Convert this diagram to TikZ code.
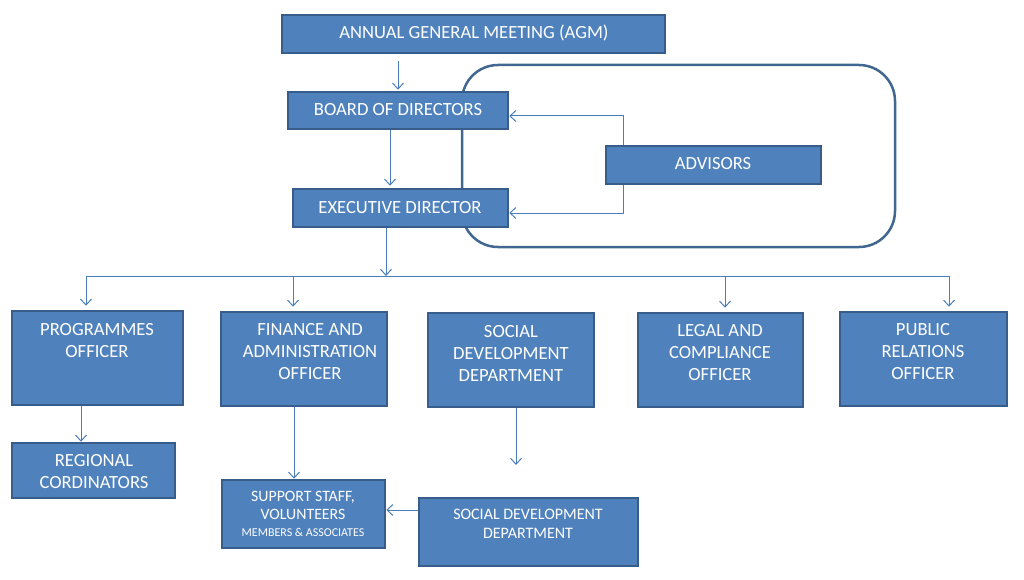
\documentclass[tikz,border=0pt]{standalone}
\usepackage{fontspec}
\setmainfont{Carlito}
\usetikzlibrary{arrows.meta}
\definecolor{boxfill}{HTML}{4F81BD}
\definecolor{boxline}{HTML}{385D8A}
\definecolor{arrcol}{HTML}{4A7EBB}
\definecolor{framecol}{HTML}{41668F}
\begin{document}
\begin{tikzpicture}[x=1pt,y=-1pt,
 box/.style={draw=boxline, fill=boxfill, line width=2.5pt, inner sep=0pt, rectangle},
 txt/.style={text=white, align=center, font=\fontsize{18.6}{22}\selectfont, inner sep=0pt},
 arr/.style={draw=arrcol, line width=1pt, -{Straight Barb[length=6pt,width=11pt]}},
 plain/.style={draw=arrcol, line width=1pt},
 advframe/.style={draw=framecol, line width=2.5pt, rounded corners=36pt, rectangle, inner sep=0pt}
]
\useasboundingbox (0,0) rectangle (1024,580);

% frame round advisors
\node[advframe, minimum width=433pt, minimum height=182pt] (frame) at (678.5,156) {};

% boxes
\node[box, minimum width=383pt, minimum height=38pt] (agm) at (473.5,34) {};
\node[box, minimum width=220pt, minimum height=37pt] (board) at (398,110.5) {};
\node[box, minimum width=215pt, minimum height=38pt] (exec) at (400.5,208) {};
\node[box, minimum width=215pt, minimum height=38pt] (adv) at (713.5,165) {};
\node[box, minimum width=171pt, minimum height=94pt] (prog) at (97.5,358) {};
\node[box, minimum width=166pt, minimum height=94pt] (fin) at (304,359) {};
\node[box, minimum width=166pt, minimum height=94pt] (soc) at (511,360) {};
\node[box, minimum width=165pt, minimum height=94pt] (legal) at (720.5,360) {};
\node[box, minimum width=167pt, minimum height=94pt] (pub) at (923.5,359) {};
\node[box, minimum width=163pt, minimum height=55pt] (reg) at (93.5,470.5) {};
\node[box, minimum width=163pt, minimum height=68pt] (sup) at (303.5,514) {};
\node[box, minimum width=219pt, minimum height=68pt] (soctwo) at (528.5,532) {};

% texts
\node[txt] (agm-t) at (474,33) {ANNUAL GENERAL MEETING (AGM)};
\node[txt] (board-t) at (398,110) {BOARD OF DIRECTORS};
\node[txt] (exec-t) at (400,208) {EXECUTIVE DIRECTOR};
\node[txt] (adv-t) at (713,164) {ADVISORS};
\node[txt] (prog-t) at (97,341) {PROGRAMMES\\OFFICER};
\node[txt] (fin-t) at (310,352) {FINANCE AND\\ADMINISTRATION\\OFFICER};
\node[txt] (soc-t) at (511,353) {SOCIAL\\DEVELOPMENT\\DEPARTMENT};
\node[txt] (legal-t) at (720,353) {LEGAL AND\\COMPLIANCE\\OFFICER};
\node[txt] (pub-t) at (923,352) {PUBLIC\\RELATIONS\\OFFICER};
\node[txt] (reg-t) at (94,472) {REGIONAL\\CORDINATORS};
\node[txt, font=\fontsize{15.8}{18}\selectfont] (sup-t) at (303,514) {SUPPORT STAFF,\\VOLUNTEERS\\[-1pt]{\fontsize{12}{14}\selectfont MEMBERS \& ASSOCIATES}};
\node[txt, font=\fontsize{16}{19}\selectfont] (soctwo-t) at (528,524) {SOCIAL DEVELOPMENT\\DEPARTMENT};

% connectors
\draw[arr, shorten <=7pt, shorten >=1pt] (agm.south -| board.north) -- (board.north);
\draw[arr, shorten >=2pt] ([xshift=-8pt]board.south) -- ([xshift=-8pt]board.south |- exec.north);
\draw[arr] ([xshift=-90.5pt]adv.north) |- ([yshift=-5.5pt]board.east);
\draw[arr] ([xshift=-90.5pt]adv.south) |- ([yshift=-5pt]exec.east);

\coordinate (hub) at (386,276);
\draw[arr] ([xshift=-14.5pt]exec.south) -- (hub);
\draw[arr, shorten >=4pt] (hub) -| ([xshift=-11.5pt]prog.north);
\draw[arr, shorten >=4pt] (hub) -| ([xshift=-11pt]fin.north);
\draw[arr, shorten >=4pt] (hub) -| ([xshift=4.5pt]legal.north);
\draw[arr, shorten >=4pt] (hub) -| ([xshift=25.5pt]pub.north);

\draw[arr] ([xshift=-16.5pt]prog.south) -- ([xshift=-16.5pt]prog.south |- reg.north);
\draw[arr] ([xshift=-10pt]fin.south) -- ([xshift=-10pt]fin.south |- sup.north);
\coordinate (socend) at (516,465);
\draw[arr] (soc.south -| socend) -- (socend);
\draw[arr] ([yshift=22pt]soctwo.west) -- ([yshift=22pt]soctwo.west -| sup.east);
\end{tikzpicture}
\end{document}
